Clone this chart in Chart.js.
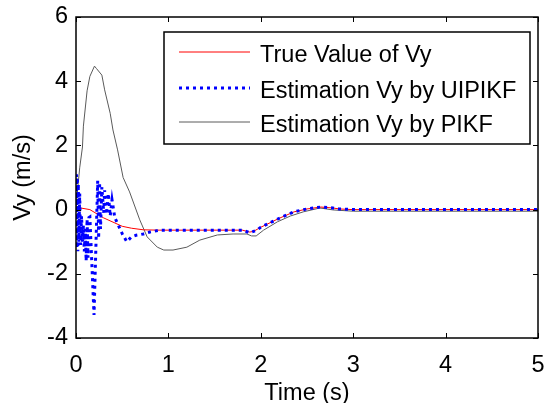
<!DOCTYPE html>
<html>
<head>
<meta charset="utf-8">
<script src="https://cdn.jsdelivr.net/npm/chart.js@4"></script>
<style>
  html, body { margin: 0; padding: 0; background: #fff; }
  #wrap { width: 545px; height: 403px; }
</style>
</head>
<body>
<div id="wrap"><canvas id="chartJSContainer" width="545" height="403"></canvas></div>
<script>
// True value of Vy
let timeTrue = [0, 0.05, 0.15, 0.3, 0.5, 0.6, 0.73, 0.9, 1.8, 1.88, 1.92, 2.0, 2.2, 2.36, 2.5, 2.65, 2.78, 2.85, 3.0, 5.0]
let vyTrue   = [0, 0.05, 0.0, -0.26, -0.52, -0.58, -0.63, -0.64, -0.64, -0.7, -0.68, -0.55, -0.27, -0.07, 0.02, 0.08, 0.05, 0.02, 0.0, 0.0]

// Estimation by UIPIKF (noisy start)
let timeUipikf = [0, 0.005, 0.01, 0.015, 0.02, 0.025, 0.03, 0.04, 0.05, 0.06, 0.07, 0.08, 0.09, 0.1, 0.11, 0.12, 0.13, 0.14, 0.15,
                  0.195, 0.235, 0.245, 0.255, 0.265, 0.28, 0.3, 0.31, 0.33, 0.35, 0.37, 0.39, 0.42, 0.46, 0.5, 0.55, 0.6, 0.65,
                  0.73, 0.8, 0.91, 1.8, 1.88, 1.95, 2.0, 2.2, 2.36, 2.5, 2.65, 2.78, 2.85, 3.0, 5.0]
let vyUipikf   = [0, 1.1, -1.2, 1.0, -1.3, 0.8, -1.0, 0.5, -1.1, -0.2, -1.0, -0.5, -1.3, -0.6, -1.6, -0.3, -1.5, -0.25, -0.23,
                  -3.28, 0.9, -0.9, 0.85, -0.6, 0.7, -0.1, 0.6, -0.15, 0.5, -0.2, 0.3, -0.25, -0.5, -0.75, -1.0, -0.85, -0.8,
                  -0.76, -0.7, -0.64, -0.64, -0.72, -0.65, -0.55, -0.27, -0.07, 0.02, 0.08, 0.05, 0.02, 0.0, 0.0]

// Estimation by PIKF
let timePikf = [0, 0.02, 0.04, 0.07, 0.08, 0.12, 0.15, 0.2, 0.22, 0.28, 0.31, 0.37, 0.4, 0.45, 0.51, 0.58, 0.69, 0.77, 0.88, 0.95,
                1.05, 1.2, 1.34, 1.53, 1.7, 1.85, 1.9, 1.95, 2.03, 2.18, 2.32, 2.46, 2.64, 2.78, 3.0, 5.0]
let vyPikf   = [0, 0.7, 1.3, 1.95, 2.6, 3.7, 4.15, 4.47, 4.4, 4.19, 3.73, 3.0, 2.48, 1.86, 1.0, 0.55, -0.32, -0.85, -1.17, -1.26,
                -1.26, -1.17, -0.95, -0.79, -0.76, -0.76, -0.82, -0.82, -0.64, -0.38, -0.2, -0.07, 0.05, -0.01, -0.05, -0.05]

let seriesLabels = ['True Value of Vy', 'Estimation Vy by UIPIKF', 'Estimation Vy by PIKF']
let xTicks = [0, 1, 2, 3, 4, 5]
let yTicks = [-4, -2, 0, 2, 4, 6]

const FONT = "'Liberation Sans', Arial, sans-serif"
const FONT_SIZE = 23.5

function toPoints(xs, ys) {
    return xs.map((t, i) => ({x: t, y: ys[i]}))
}

// inward ticks, box frame and the MATLAB style legend
const matlabFrame = {
    id: 'matlabFrame',
    afterDatasetsDraw(chart) {
        const {ctx, chartArea: a, scales: {x, y}} = chart;
        ctx.save();
        ctx.strokeStyle = '#000';
        ctx.lineWidth = 1;
        ctx.beginPath();
        xTicks.forEach(v => {
            const px = Math.round(x.getPixelForValue(v)) + 0.5;
            ctx.moveTo(px, a.bottom); ctx.lineTo(px, a.bottom - 5);
            ctx.moveTo(px, a.top); ctx.lineTo(px, a.top + 5);
        });
        yTicks.forEach(v => {
            const py = Math.round(y.getPixelForValue(v)) + 0.5;
            ctx.moveTo(a.left, py); ctx.lineTo(a.left + 5, py);
            ctx.moveTo(a.right, py); ctx.lineTo(a.right - 5, py);
        });
        ctx.stroke();
        ctx.lineWidth = 1.5;
        ctx.strokeRect(a.left, a.top, a.right - a.left, a.bottom - a.top);

        // legend
        const bx = a.right - 374, by = a.top + 15, bw = 366, bh = 112;
        ctx.fillStyle = '#fff';
        ctx.fillRect(bx, by, bw, bh);
        ctx.lineWidth = 1.5;
        ctx.strokeRect(bx, by, bw, bh);
        ctx.font = FONT_SIZE + 'px ' + FONT;
        ctx.textBaseline = 'alphabetic';
        ctx.textAlign = 'left';
        const rows = [20, 56, 90];
        chart.data.datasets.forEach((ds, i) => {
            const ry = by + rows[i];
            ctx.save();
            ctx.strokeStyle = ds.borderColor;
            ctx.lineWidth = ds.borderWidth;
            ctx.setLineDash(ds.borderDash || []);
            ctx.beginPath();
            ctx.moveTo(bx + 15, ry);
            ctx.lineTo(bx + 86, ry);
            ctx.stroke();
            ctx.restore();
            ctx.fillStyle = '#000';
            ctx.fillText(ds.label, bx + 96, ry + 9.5);
        });
        ctx.restore();
    }
};

let options = {
    type: 'line',
    data: {
        datasets: [
            {
                label: seriesLabels[0],
                data: toPoints(timeTrue, vyTrue),
                borderColor: '#ff0000',
                borderWidth: 1,
                order: 1,
            },
            {
                label: seriesLabels[1],
                data: toPoints(timeUipikf, vyUipikf),
                borderColor: '#0000ff',
                borderWidth: 3,
                borderDash: [3, 4],
                order: 0,
            },
            {
                label: seriesLabels[2],
                data: toPoints(timePikf, vyPikf),
                borderColor: '#5a5a5a',
                borderWidth: 1,
                order: 2,
            }
        ]
    },
    options: {
        responsive: false,
        animation: false,
        layout: { padding: { top: 17, right: 7, left: 0, bottom: 0 } },
        elements: {
            point: { radius: 0 },
            line: { tension: 0, fill: false }
        },
        plugins: {
            legend: { display: false },
            tooltip: { enabled: false }
        },
        scales: {
            x: {
                type: 'linear',
                min: 0,
                max: 5,
                grid: { display: false, drawTicks: false },
                border: { display: false },
                afterBuildTicks: (s) => { s.ticks = xTicks.map(v => ({value: v})) },
                afterFit: (s) => { s.height = 65; s.paddingLeft = 0; s.paddingRight = 0 },
                ticks: { color: '#000', font: { family: FONT, size: FONT_SIZE }, padding: 13, maxRotation: 0, autoSkip: false },
                title: { display: true, text: 'Time (s)', color: '#000', font: { family: FONT, size: FONT_SIZE, lineHeight: 1 }, padding: { top: 0, bottom: -2 } }
            },
            y: {
                min: -4,
                max: 6,
                grid: { display: false, drawTicks: false },
                border: { display: false },
                afterBuildTicks: (s) => { s.ticks = yTicks.map(v => ({value: v})) },
                afterFit: (s) => { s.width = 76; s.paddingTop = 0; s.paddingBottom = 0 },
                ticks: { color: '#000', font: { family: FONT, size: FONT_SIZE }, padding: 8, autoSkip: false },
                title: { display: true, text: 'Vy (m/s)', color: '#000', font: { family: FONT, size: FONT_SIZE, lineHeight: 1 }, padding: { top: 12, bottom: 0 } }
            }
        }
    },
    plugins: [matlabFrame]
}

let ctx = document.getElementById('chartJSContainer').getContext('2d');
window.chart = new Chart(ctx, options);
</script>
</body>
</html>
